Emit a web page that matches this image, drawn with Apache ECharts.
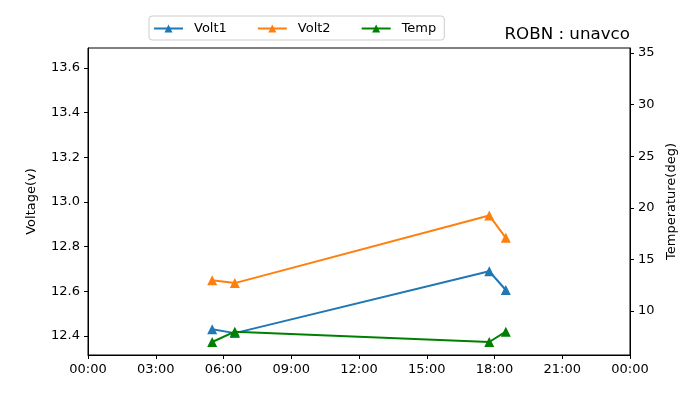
<!DOCTYPE html>
<html>
<head>
<meta charset="utf-8">
<script src="https://cdn.jsdelivr.net/npm/echarts@6/dist/echarts.min.js"></script>
<style>
	html, body { margin: 0; padding: 0; background: #fff; }
	#chart { width: 700px; height: 400px; }
</style>
</head>
<body>
<div id="chart"></div>
<script>
var times = ["05:30", "06:30", "17:46", "18:30"];
var volt1 = [12.43, 12.413, 12.69, 12.606];
var volt2 = [12.65, 12.637, 12.94, 12.84];
var temp = [7.0, 8.0, 7.0, 8.0];
var xTicks = ["00:00", "03:00", "06:00", "09:00", "12:00", "15:00", "18:00", "21:00", "00:00"];
var voltTicks = [12.4, 12.6, 12.8, 13.0, 13.2, 13.4, 13.6];
var tempTicks = [10, 15, 20, 25, 30, 35];

function toHours(s) {
	var p = s.split(':');
	return parseInt(p[0], 10) + parseInt(p[1], 10) / 60;
}

function pairs(vals) {
	var out = [];
	for (var i = 0; i < times.length; i++) {
		out.push([toHours(times[i]), vals[i]]);
	}
	return out;
}

var font = 'DejaVu Sans';
var myChart = echarts.init(document.getElementById('chart'));
var option = {
	animation: false,
	textStyle: { fontFamily: font },
	title: {
		text: 'ROBN : unavco',
		right: 65,
		top: 21,
		textStyle: { fontFamily: font, fontSize: 16.7, fontWeight: 'normal', color: '#000' }
	},
	legend: {
		data: ['Volt1', 'Volt2', 'Temp'],
		left: 149,
		top: 16,
		itemWidth: 29,
		itemHeight: 10,
		itemGap: 30,
		padding: [6, 8, 5, 4],
		borderColor: '#ccc',
		borderWidth: 1,
		borderRadius: 3,
		textStyle: { fontFamily: font, fontSize: 13, color: '#000', padding: [0, 0, 0, 6] }
	},
	grid: {
		left: 88,
		right: 70,
		top: 48,
		bottom: 45,
		show: true,
		borderColor: '#000',
		borderWidth: 1
	},
	xAxis: {
		type: 'value',
		min: 0,
		max: 24,
		interval: 3,
		splitLine: { show: false },
		axisLine: { lineStyle: { color: '#000' } },
		axisTick: { show: true, length: 4, lineStyle: { color: '#000' } },
		axisLabel: {
			fontFamily: font,
			fontSize: 13,
			color: '#000',
			margin: 8,
			formatter: function(v) { return xTicks[Math.round(v / 3)]; }
		}
	},
	yAxis: [{
		type: 'value',
		min: 12.315,
		max: 13.69,
		name: 'Voltage(v)',
		nameLocation: 'middle',
		nameGap: 50,
		nameTextStyle: { fontFamily: font, fontSize: 13, color: '#000' },
		splitLine: { show: false },
		axisLine: { show: true, lineStyle: { color: '#000' } },
		axisTick: { show: true, length: 4, lineStyle: { color: '#000' }, customValues: voltTicks },
		axisLabel: {
			fontFamily: font,
			fontSize: 13,
			color: '#000',
			customValues: voltTicks,
			formatter: function(v) { return v.toFixed(1); }
		}
	}, {
		type: 'value',
		min: 5.74,
		max: 35.48,
		name: 'Temperature(deg)',
		nameLocation: 'middle',
		nameGap: 33,
		nameRotate: 90,
		nameTextStyle: { fontFamily: font, fontSize: 13, color: '#000' },
		splitLine: { show: false },
		axisLine: { show: true, lineStyle: { color: '#000' } },
		axisTick: { show: true, length: 4, lineStyle: { color: '#000' }, customValues: tempTicks },
		axisLabel: {
			fontFamily: font,
			fontSize: 13,
			color: '#000',
			customValues: tempTicks
		}
	}],
	series: [{
		name: 'Volt1',
		type: 'line',
		yAxisIndex: 0,
		symbol: 'triangle',
		symbolSize: 10,
		color: '#1f77b4',
		lineStyle: { width: 2 },
		data: pairs(volt1)
	}, {
		name: 'Volt2',
		type: 'line',
		yAxisIndex: 0,
		symbol: 'triangle',
		symbolSize: 10,
		color: '#ff7f0e',
		lineStyle: { width: 2 },
		data: pairs(volt2)
	}, {
		name: 'Temp',
		type: 'line',
		yAxisIndex: 1,
		symbol: 'triangle',
		symbolSize: 10,
		color: '#008000',
		lineStyle: { width: 2 },
		data: pairs(temp)
	}]
};
myChart.setOption(option);
</script>
</body>
</html>
